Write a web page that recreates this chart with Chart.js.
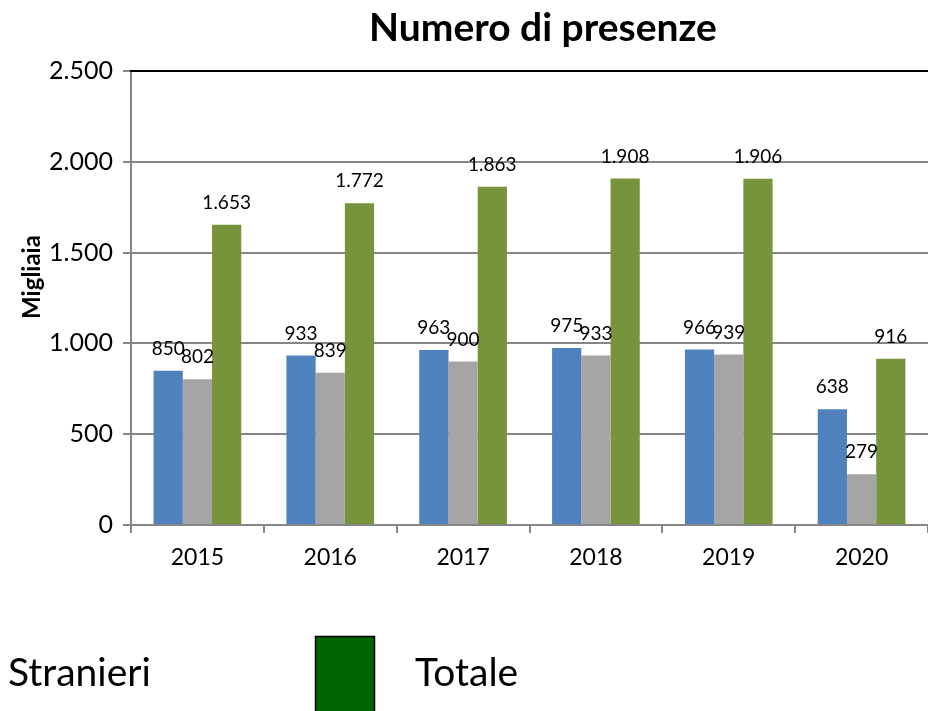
<!DOCTYPE html>
<html>
<head>
<meta charset="utf-8">
<script src="https://cdn.jsdelivr.net/npm/chart.js@4.4.1/dist/chart.umd.min.js"></script>
<style>
html,body{margin:0;padding:0;background:#fff;}
#c{display:block;}
</style>
</head>
<body>
<canvas id="c" width="928" height="711"></canvas>
<script>
const categories = ['2015', '2016', '2017', '2018', '2019', '2020'];
const italiani = [850, 933, 963, 975, 966, 638];
const stranieri = [802, 839, 900, 933, 939, 279];
const totale = [1653, 1772, 1863, 1908, 1906, 916];
const yTicks = [0, 500, 1000, 1500, 2000, 2500];
const seriesNames = ['Italiani', 'Stranieri', 'Totale'];
const chartTitle = 'Numero di presenze';
const yAxisTitle = 'Migliaia';

const FONT = 'Lato, "Open Sans", sans-serif';
function fmt(v) { return String(v).replace(/\B(?=(\d{3})+(?!\d))/g, '.'); }

const decor = {
  id: 'decor',
  afterDatasetsDraw(chart) {
    const ctx = chart.ctx;
    const a = chart.chartArea;
    ctx.save();
    // top border
    ctx.strokeStyle = '#000';
    ctx.lineWidth = 2;
    ctx.beginPath();
    ctx.moveTo(a.left - 1, a.top);
    ctx.lineTo(a.right, a.top);
    ctx.stroke();
    // data labels
    ctx.fillStyle = '#000';
    ctx.font = '19px ' + FONT;
    ctx.textAlign = 'center';
    ctx.textBaseline = 'middle';
    chart.data.datasets.forEach((ds, i) => {
      const meta = chart.getDatasetMeta(i);
      meta.data.forEach((el, j) => {
        ctx.fillText(fmt(ds.data[j]), el.x, el.y - 22);
      });
    });
    ctx.restore();
  },
  afterDraw(chart) {
    const ctx = chart.ctx;
    ctx.save();
    ctx.fillStyle = '#000';
    ctx.textBaseline = 'middle';
    ctx.textAlign = 'center';
    ctx.font = 'bold 39px ' + FONT;
    ctx.fillText(chartTitle, 543, 28);
    // y axis title
    ctx.save();
    ctx.translate(32, 277);
    ctx.rotate(-Math.PI / 2);
    ctx.font = 'bold 24px ' + FONT;
    ctx.fillText(yAxisTitle, 0, 0);
    ctx.restore();
    // legend (partially visible)
    ctx.textAlign = 'left';
    ctx.font = '39px ' + FONT;
    ctx.fillText(seriesNames[1], 8, 673);
    ctx.fillStyle = '#006400';
    ctx.fillRect(315, 636, 60, 80);
    ctx.strokeStyle = '#000';
    ctx.lineWidth = 1.5;
    ctx.strokeRect(315.5, 636.5, 59, 80);
    ctx.fillStyle = '#000';
    ctx.fillText(seriesNames[2], 415, 673);
    ctx.restore();
  }
};

new Chart(document.getElementById('c'), {
  type: 'bar',
  data: {
    labels: categories,
    datasets: [
      { label: seriesNames[0], data: italiani, backgroundColor: '#4F81BD' },
      { label: seriesNames[1], data: stranieri, backgroundColor: '#A5A5A5' },
      { label: seriesNames[2], data: totale, backgroundColor: '#77933C' }
    ]
  },
  options: {
    responsive: false,
    animation: false,
    layout: { padding: { top: 71, left: 14, right: 0, bottom: 0 } },
    datasets: { bar: { barPercentage: 1, categoryPercentage: 0.66 } },
    plugins: { legend: { display: false }, title: { display: false }, tooltip: { enabled: false } },
    scales: {
      x: {
        grid: { display: true, drawOnChartArea: false, drawTicks: true, tickLength: 8, color: '#868686', lineWidth: 2, offset: true },
        border: { color: '#868686', width: 2 },
        ticks: { color: '#000', font: { family: FONT, size: 23 }, padding: 11 },
        afterFit(s) { s.height = 186; }
      },
      y: {
        min: 0, max: 2500,
        afterBuildTicks(s) { s.ticks = yTicks.map(v => ({ value: v })); },
        grid: { color: '#868686', lineWidth: 2, tickLength: 8 },
        border: { color: '#868686', width: 2 },
        ticks: { color: '#000', font: { family: FONT, size: 25 }, padding: 10, callback: v => fmt(v) },
        title: { display: false },
        afterFit(s) { s.width = 131 - 14; }
      }
    }
  },
  plugins: [decor]
});
</script>
</body>
</html>
